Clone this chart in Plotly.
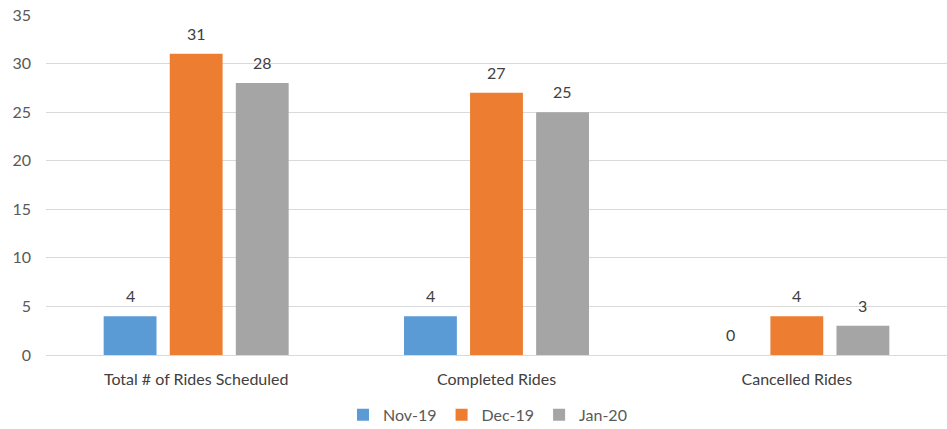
import plotly.graph_objects as go

categories = ["Total # of Rides Scheduled", "Completed Rides", "Cancelled Rides"]
series_names = ["Nov-19", "Dec-19", "Jan-20"]
nov_19 = [4, 4, 0]
dec_19 = [31, 27, 4]
jan_20 = [28, 25, 3]
y_ticks = [0, 5, 10, 15, 20, 25, 30, 35]

colors = ["#5B9BD5", "#ED7D31", "#A5A5A5"]
series_values = [nov_19, dec_19, jan_20]

W, H = 947, 429
margin = dict(l=46, r=0, t=15, b=74)
bargap = 0.34
bargroupgap = 0.2

fig = go.Figure()
for name, vals, col in zip(series_names, series_values, colors):
    fig.add_trace(go.Bar(
        name=name, x=categories, y=vals, marker_color=col,
        marker_line_width=0,
    ))

# value labels above each bar, offset to the bar's slot within the group
plot_w = W - margin["l"] - margin["r"]
cat_w = plot_w / len(categories)
slot = cat_w * (1 - bargap) / len(series_names)
for i, vals in enumerate(series_values):
    for cat, v in zip(categories, vals):
        fig.add_annotation(
            x=cat, y=v, text=str(v), showarrow=False,
            xshift=(i - 1) * slot, yanchor="bottom", yshift=9,
            font=dict(size=16, color="#404040"),
        )

fig.update_layout(
    width=W, height=H, margin=margin,
    barmode="group", bargap=bargap, bargroupgap=bargroupgap,
    plot_bgcolor="white", paper_bgcolor="white",
    font=dict(family="Lato", size=15, color="#595959"),
    showlegend=True,
    legend=dict(orientation="h", x=0.49, xanchor="center",
                yref="container", y=0.033, yanchor="middle",
                font=dict(size=16, color="#595959"),
                itemwidth=30, traceorder="normal"),
    xaxis=dict(showgrid=False, showline=True, linecolor="#D9D9D9",
               linewidth=1, ticks="", ticklabelstandoff=10, automargin=False,
               tickfont=dict(size=16, color="#404040")),
    yaxis=dict(range=[0, 35], tickvals=y_ticks, showgrid=True,
               gridcolor="#D9D9D9", gridwidth=1, zeroline=False,
               showline=False, ticklabelstandoff=14, automargin=False,
               tickfont=dict(size=16, color="#595959")),
)

fig.write_html("out.html")
